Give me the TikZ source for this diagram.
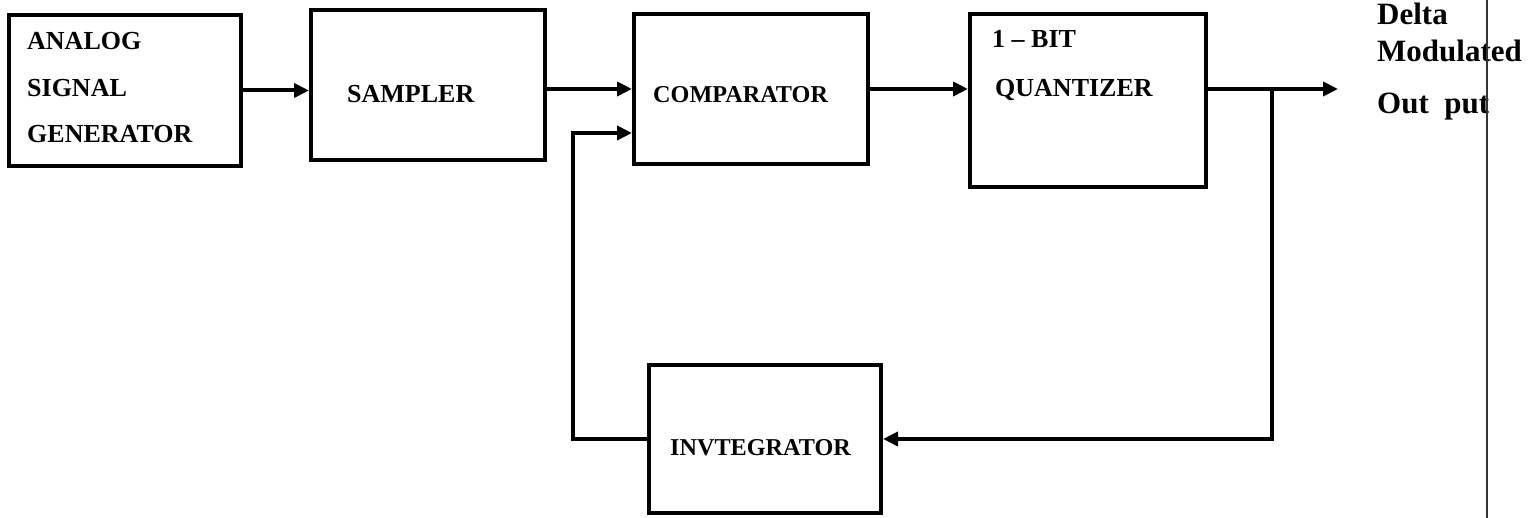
\documentclass[tikz,border=0pt]{standalone}
\usepackage{fontspec}
\setmainfont{Liberation Serif}
\usetikzlibrary{arrows.meta,calc}

\begin{document}
\begin{tikzpicture}[x=1pt,y=-1pt,
  blk/.style={draw,line width=4pt,rectangle,minimum width=#1,inner sep=0pt},
  lbl/.style={anchor=base west,inner sep=0pt,font=\fontsize{26}{30}\selectfont\bfseries},
  lblsm/.style={anchor=base west,inner sep=0pt,font=\fontsize{24.2}{28}\selectfont\bfseries},
  outlbl/.style={anchor=base west,inner sep=0pt,font=\fontsize{31}{36}\selectfont\bfseries},
  arr/.style={line width=4pt,-{Triangle[length=15pt,width=14pt]}},
  wire/.style={line width=4pt}]
\useasboundingbox (0,0) rectangle (1534,518);

% blocks
\node[blk=232pt,minimum height=151pt] (asg) at (125,90.5) {};
\node[blk=234pt,minimum height=150pt] (smp) at (428,85) {};
\node[blk=234pt,minimum height=150pt] (cmp) at (751,89) {};
\node[blk=236pt,minimum height=173pt] (qnt) at (1088,100.5) {};
\node[blk=232pt,minimum height=148pt] (int) at (765,439) {};

% texts
\node[lbl] (asg1) at (27,50) {ANALOG};
\node[lbl] (asg2) at (27,97) {SIGNAL};
\node[lbl] (asg3) at (27,143) {GENERATOR};
\node[lbl] (smpt) at (347,103) {SAMPLER};
\node[lblsm] (cmpt) at (653,103) {COMPARATOR};
\node[lbl] (qnt1) at (992,48) {1 – BIT};
\node[lbl] (qnt2) at (995,97) {QUANTIZER};
\node[lblsm] (intt) at (670,455) {INVTEGRATOR};
\node[outlbl] (dm1) at (1377,25) {Delta};
\node[outlbl] (dm2) at (1377,62) {Modulated};
\node[outlbl] (dm3) at (1377,114) {Out\ \ put};

\coordinate (out) at (1338,89);
\coordinate (br) at (1272,89);
\coordinate (fb) at (573,133);

% connectors
\draw[arr] (asg.east) -- (asg.east -| smp.west);
\draw[arr] (smp.east |- cmp.west) -- (cmp.west);
\draw[arr] (cmp.east) -- (cmp.east -| qnt.west);
\draw[arr] (qnt.east |- out) -- (out);
\draw[arr] (br) |- (int.east);
\draw[arr] (int.west) -| (fb) -- (fb -| cmp.west);

\draw[line width=2pt,black!80] (1487,0) -- (1487,518);
\end{tikzpicture}
\end{document}
